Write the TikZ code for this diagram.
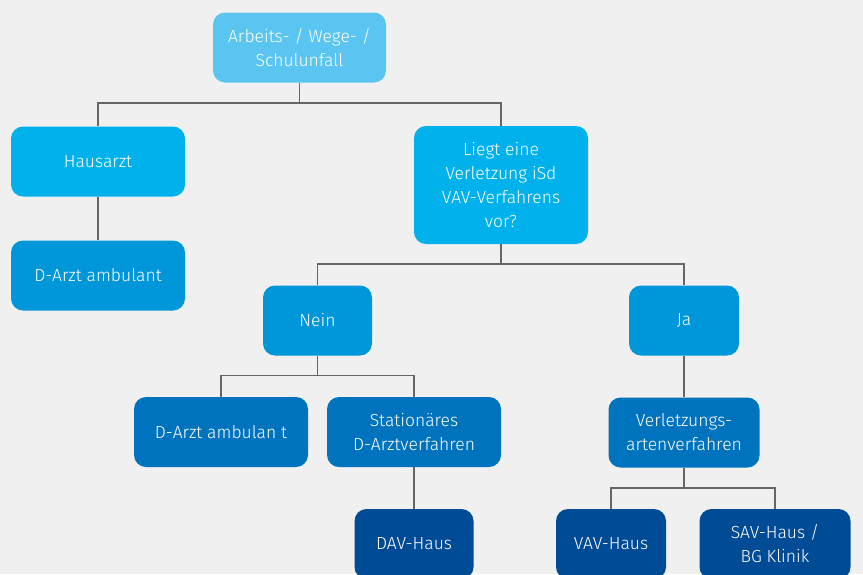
\documentclass[tikz,border=0pt]{standalone}
\usepackage{fontspec}
\setmainfont{Fira Sans}[UprightFont=* Light]
\usetikzlibrary{positioning}
\definecolor{bg}{HTML}{F0F0F0}
\definecolor{cA}{HTML}{5BC5F2}
\definecolor{cB}{HTML}{00B1EB}
\definecolor{cC}{HTML}{0096DA}
\definecolor{cD}{HTML}{0073BE}
\definecolor{cE}{HTML}{004B95}
\definecolor{linec}{HTML}{666666}
\tikzset{
  box/.style={rounded corners=12pt, text=white, align=center, inner sep=0pt,
    font=\fontsize{17.5}{24}\selectfont, minimum height=70pt},
  conn/.style={draw=linec, line width=1.3pt}
}
\begin{document}
\begin{tikzpicture}[x=1pt,y=-1pt]
\fill[bg] (0,0) rectangle (863,574);
\clip (0,0) rectangle (863,574);
\node[box, fill=cA, minimum width=173pt] (top) at (299.5,47.5) {Arbeits- / Wege- /\\Schulunfall};
\node[box, fill=cB, minimum width=174pt] (haus) at (98,161.5) {Hausarzt};
\node[box, fill=cB, minimum width=174pt, minimum height=118pt] (liegt) at (501,185) {Liegt eine\\Verletzung iSd\\VAV-Verfahrens\\vor?};
\node[box, fill=cC, minimum width=174pt] (darzta) at (98,275.5) {D-Arzt ambulant};
\node[box, fill=cC, minimum width=109pt] (nein) at (317.5,320.5) {Nein};
\node[box, fill=cC, minimum width=110pt] (ja) at (684,320.5) {Ja};
\node[box, fill=cD, minimum width=174pt] (darztb) at (221,432) {D-Arzt ambulan t};
\node[box, fill=cD, minimum width=174pt] (stat) at (414,432) {Stationäres\\D-Arztverfahren};
\node[box, fill=cD, minimum width=151pt] (verl) at (684,432.5) {Verletzungs-\\artenverfahren};
\node[box, fill=cE, minimum width=119pt] (dav) at (414,544) {DAV-Haus};
\node[box, fill=cE, minimum width=110pt] (vav) at (611,544) {VAV-Haus};
\node[box, fill=cE, minimum width=151pt] (sav) at (775,544) {SAV-Haus /\\BG Klinik};
\coordinate (j1) at (299.5,103);
\coordinate (j2) at (501,264);
\coordinate (j3) at (317.5,375.5);
\coordinate (j4) at (684,488);
\draw[conn] (top.south) -- (j1) -| (haus.north);
\draw[conn] (j1) -| (liegt.north);
\draw[conn] (haus.south) -- (darzta.north);
\draw[conn] (liegt.south) -- (j2) -| (nein.north);
\draw[conn] (j2) -| (ja.north);
\draw[conn] (nein.south) -- (j3) -| (darztb.north);
\draw[conn] (j3) -| (stat.north);
\draw[conn] (stat.south) -- (dav.north);
\draw[conn] (ja.south) -- (verl.north);
\draw[conn] (verl.south) -- (j4) -| (vav.north);
\draw[conn] (j4) -| (sav.north);
\end{tikzpicture}
\end{document}
